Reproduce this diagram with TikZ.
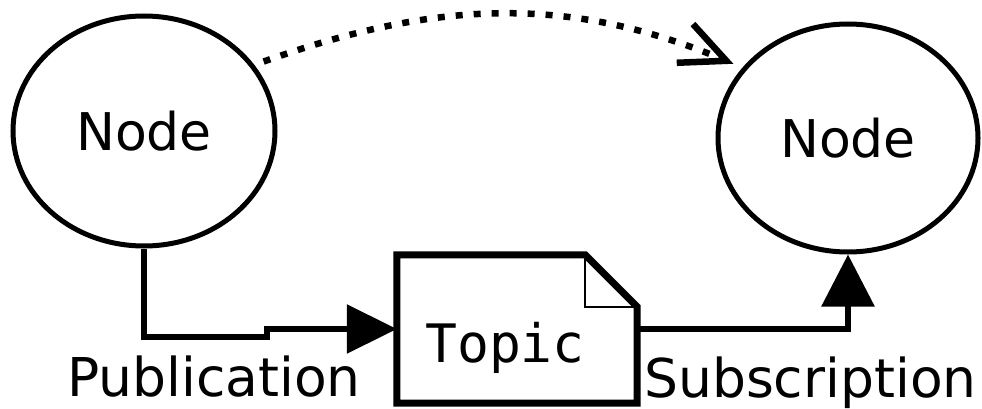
\documentclass[tikz,border=0pt]{standalone}
\usepackage{fontspec}
\setmainfont{DejaVu Sans}
\setmonofont{DejaVu Sans Mono}
\usetikzlibrary{shapes.geometric,arrows.meta}
\begin{document}
\begin{tikzpicture}[x=1pt,y=-1pt,
  proc/.style={ellipse,draw,line width=5pt,inner sep=0pt,font=\fontsize{52}{60}\selectfont},
  conn/.style={line width=6pt,line join=miter},
  lbl/.style={anchor=base west,inner sep=0pt,font=\fontsize{53.5}{60}\selectfont},
  topicbox/.style={rectangle,draw=none,minimum width=240pt,minimum height=148pt,inner sep=0pt}
]
\useasboundingbox (0,0) rectangle (982,409);
% nodes
\node[proc,minimum width=262pt,minimum height=230pt] (L) at (144,131) {Node};
\node[proc,minimum width=260pt,minimum height=228pt] (R) at (848,138) {Node};
\node[topicbox] (T) at (517,329) {};
\coordinate (f1) at ([xshift=-52pt]T.north east);
\coordinate (f2) at ([yshift=-52pt]T.north east);
\draw[line width=7pt,line join=miter] (T.north west) -- (f1) -- (f2) -- (T.south east) -- (T.south west) -- cycle;
\draw[line width=2pt] (f1) -- (f1 |- f2) -- (f2);
\node[anchor=base,inner sep=0pt,font=\ttfamily\fontsize{53}{60}\selectfont] (Ttext) at (505,362) {Topic};
% labels
\node[lbl] (pub) at (67,396) {Publication};
\node[lbl] (sub) at (644,397) {Subscription};
% connectors
\coordinate (jog) at (267,337);
\draw[conn,-{Triangle[length=50pt,width=48pt]}] (L.south) |- (jog) -- (jog |- T.west) -- (T.west);
\draw[conn,-{Triangle[length=52pt,width=52pt]}] (T.east) -| (R.south);
\draw[line width=6.5pt,dash pattern=on 7pt off 11pt,-{Straight Barb[length=45pt,width=42pt]}]
  ([shift={(8,-5)}]L.30) .. controls (434,1) and (567,-6) .. ([shift={(-8,-5)}]R.147);
\end{tikzpicture}
\end{document}
